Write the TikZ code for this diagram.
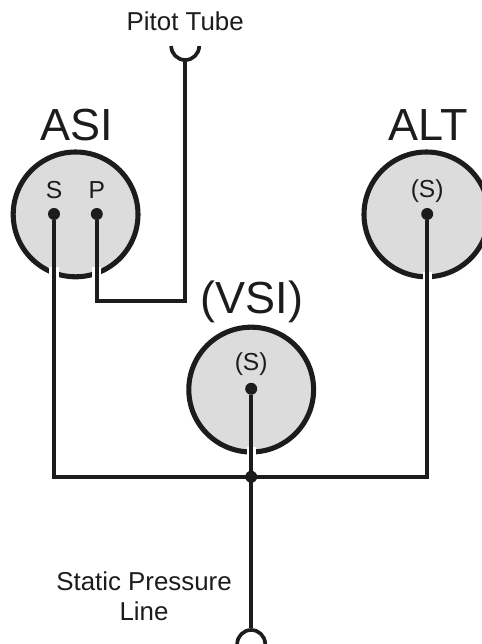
\documentclass[tikz,border=0pt]{standalone}
\usepackage{fontspec}
\setmainfont{Liberation Sans}
\definecolor{gaugefill}{HTML}{DCDCDC}
\definecolor{inkline}{HTML}{1C1C1C}
\tikzset{
    gauge/.style={circle, draw=inkline, fill=gaugefill, line width=3.6pt, minimum size=3.12cm, inner sep=0pt},
    port/.style={circle, fill=inkline, minimum size=0.3cm, inner sep=0pt},
    wire/.style={draw=inkline, line width=2.6pt},
    halo/.style={draw=white, line width=6.5pt},
    bignm/.style={text=inkline, font=\fontsize{32}{33}\selectfont},
    midnm/.style={text=inkline, font=\fontsize{18.4}{21.3}\selectfont, align=center},
    portnm/.style={text=inkline, font=\fontsize{17.5}{20}\selectfont}
}
\begin{document}
\begin{tikzpicture}
        \useasboundingbox (0,0) rectangle (12.05,16.1);
        \clip (0,0) rectangle (12.05,16.1);

        % ---- instruments ----
        \node[gauge] (asi) at (1.89,10.74) {};
        \node[gauge] (alt) at (10.66,10.74) {};
        \node[gauge] (vsi) at (6.28,6.36) {};
        \node[bignm] (asiname) at (1.93,12.98) {ASI};
        \node[bignm] (altname) at (10.7,12.98) {ALT};
        \node[bignm] (vsiname) at (6.3,8.55) {(VSI)};

        % ---- ports ----
        \node[port] (asiS) at (1.35,10.75) {};
        \node[port] (asiP) at (2.42,10.75) {};
        \node[port] (altS) at (10.68,10.75) {};
        \node[port] (vsiS) at (6.28,6.38) {};
        \node[portnm] (asiSname) at (1.35,11.34) {S};
        \node[portnm] (asiPname) at (2.42,11.34) {P};
        \node[portnm] (altSname) at (10.68,11.33) {(S)};
        \node[portnm] (vsiSname) at (6.28,7.0) {(S)};

        % ---- free ends and the tee ----
        \coordinate (pitot) at (4.63,14.6);
        \coordinate (bend) at (4.63,8.58);
        \coordinate (tee) at (6.28,4.18);
        \node[circle, wire, minimum size=0.7cm, inner sep=0pt] (static) at (6.28,0) {};
        \draw[wire] (4.28,14.95) arc (180:360:0.35);

        % ---- white gaps where lines cross the rims ----
        \draw[halo] (1.35,9.42) -- (1.35,9.14);
        \draw[halo] (2.42,9.42) -- (2.42,9.14);
        \draw[halo] (10.68,9.3) -- (10.68,9.06);
        \draw[halo] (6.28,4.92) -- (6.28,4.68);

        % ---- pressure lines ----
        \draw[wire] (asiP) |- (bend) -- (pitot);
        \draw[wire] (asiS) |- (tee) -| (altS);
        \draw[wire] (vsiS) -- (tee) -- (static);
        \node[port] (teedot) at (tee) {};

        % ---- labels ----
        \node[midnm] (pitotname) at (4.63,15.56) {Pitot Tube};
        \node[midnm] (staticname) at (3.6,1.2) {Static Pressure\\Line};
    \end{tikzpicture}
\end{document}
